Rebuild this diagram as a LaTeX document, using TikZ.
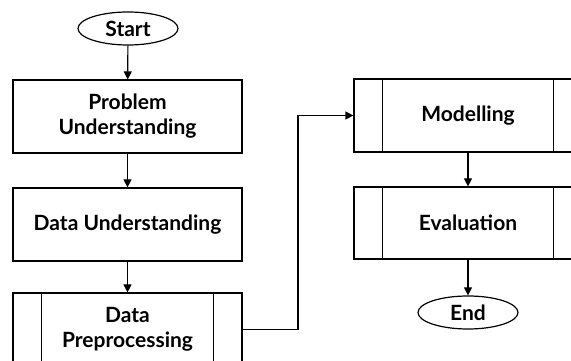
\documentclass[tikz,border=0pt]{standalone}
\usepackage{fontspec}
\setmainfont{Lato}
\usetikzlibrary{arrows.meta,shapes.geometric}
\tikzset{
  x=1pt,y=1pt,
  every node/.style={font=\fontsize{21}{25}\selectfont\bfseries, align=center, text=black},
  procbox/.style={draw, line width=1.2pt, minimum width=229pt, minimum height=73pt, inner sep=0pt},
  term/.style={draw, ellipse, line width=1.2pt, minimum width=100pt, minimum height=33pt, inner sep=0pt},
  conn/.style={line width=1.2pt, -{Triangle[length=8pt,width=8pt]}},
  sideline/.style={line width=1.2pt}
}
\begin{document}
\begin{tikzpicture}
\useasboundingbox (0,0) rectangle (571,361);
\clip (0,0) rectangle (571,361);
\node[term] (start) at (128,332.5) {Start};
\node[procbox] (pu) at (127.5,244.5) {Problem\\Understanding};
\node[procbox] (du) at (127.5,136.5) {Data Understanding};
\node[procbox] (dp) at (127.5,31.5) {Data\\Preprocessing};
\node[procbox, minimum width=228pt] (mo) at (468,245.5) {Modelling};
\node[procbox, minimum width=228pt, minimum height=72pt] (ev) at (468,138) {Evaluation};
\node[term] (end) at (468,48.5) {End};
\foreach \n in {dp,mo,ev}{
  \draw[sideline] ([xshift=29pt]\n.north west) -- ([xshift=29pt]\n.south west);
  \draw[sideline] ([xshift=-29pt]\n.north east) -- ([xshift=-29pt]\n.south east);
}
\coordinate (bx) at (298,0);
\draw[conn] (start) -- (pu);
\draw[conn] (pu) -- (du);
\draw[conn] (du) -- (dp);
\draw[conn] (dp.east) -| (bx |- mo.west) -- (mo.west);
\draw[conn] (mo) -- (ev);
\draw[conn] (ev) -- (end);
\end{tikzpicture}
\end{document}
